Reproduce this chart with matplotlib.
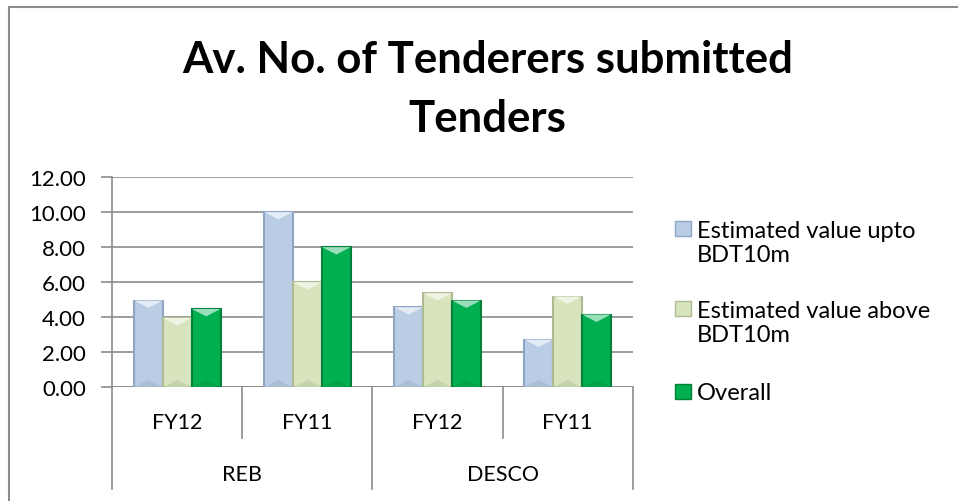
import matplotlib.pyplot as plt
import numpy as np
from matplotlib.patches import Rectangle, Polygon
from matplotlib.lines import Line2D
import matplotlib.transforms as mtransforms
import matplotlib.colors as mcolors

plt.rcParams["font.family"] = ["Lato", "DejaVu Sans"]

# -----------------------------
# Data
# -----------------------------
years = ["FY12", "FY11", "FY12", "FY11"]
groups = ["REB", "DESCO"]
series_names = ["Estimated value upto\nBDT10m", "Estimated value above\nBDT10m", "Overall"]
upto_10m = [4.95, 10.0, 4.57, 2.72]
above_10m = [3.96, 6.0, 5.37, 5.18]
overall = [4.47, 8.0, 4.95, 4.15]

colors = ["#B9CDE5", "#D7E4BD", "#00B050"]
edges = ["#8EA6C4", "#AEBB92", "#00803A"]
grid_gray = "#8C8C8C"


def mix(c, other, t):
    a = np.array(mcolors.to_rgb(c))
    b = np.array(mcolors.to_rgb(other))
    return tuple(a * (1 - t) + b * t)


fig = plt.figure(figsize=(9.58, 5.02), dpi=100)
ax = fig.add_axes([0.1172, 0.2265, 0.5432, 0.4189])

x = np.arange(len(years))
width = 0.222
bevel = 0.42  # bevel depth in data units (~7 px)
for i, vals in enumerate([upto_10m, above_10m, overall]):
    bars = ax.bar(x + (i - 1) * width, vals, width, color=colors[i],
                  edgecolor=edges[i], linewidth=1.5, zorder=3)
    # simple bevel look: light top facet, darker bottom facet
    for p in bars:
        x0, w, h = p.get_x(), p.get_width(), p.get_height()
        ax.add_patch(Polygon([(x0, h), (x0 + w, h), (x0 + w / 2, h - bevel)],
                             closed=True, facecolor=mix(colors[i], "white", 0.6),
                             edgecolor="none", zorder=4))
        ax.add_patch(Polygon([(x0, 0), (x0 + w, 0), (x0 + w / 2, bevel)],
                             closed=True, facecolor=mix(colors[i], "black", 0.08),
                             edgecolor="none", zorder=4))

ax.set_xlim(-0.5, len(years) - 0.5)
ax.set_ylim(0, 12)
yt = np.arange(0, 12.01, 2)
ax.set_yticks(yt)
ax.set_yticklabels([f"{v:.2f}" for v in yt], fontsize=16)
ax.yaxis.grid(True, color=grid_gray, linewidth=1.2, zorder=0)
ax.tick_params(axis="y", length=8, width=1.2, color=grid_gray, pad=11)
ax.set_xticks([])
for s in ["top", "right", "bottom"]:
    ax.spines[s].set_visible(False)
ax.spines["left"].set_color(grid_gray)
ax.spines["left"].set_linewidth(1.2)
ax.axhline(0, color=grid_gray, linewidth=1.2, zorder=2)

# -----------------------------
# Two-level category axis
# -----------------------------
trans = mtransforms.blended_transform_factory(ax.transData, ax.transAxes)
for xi, lab in zip(x, years):
    ax.text(xi, -0.165, lab, transform=trans, ha="center", va="center", fontsize=15.5)
for gi, g in enumerate(groups):
    ax.text(2 * gi + 0.5, -0.41, g, transform=trans, ha="center", va="center", fontsize=15.5)
for xb in np.arange(-0.5, len(years), 1):
    is_long = (xb + 0.5) % 2 == 0
    y0 = -0.484 if is_long else -0.241
    ax.add_line(Line2D([xb, xb], [0, y0], transform=trans, color=grid_gray,
                       linewidth=1.2, clip_on=False))

# -----------------------------
# Title
# -----------------------------
fig.text(0.509, 0.8546, "Av. No. of Tenderers submitted", ha="center",
         va="baseline", fontsize=31.5, fontweight="bold")
fig.text(0.509, 0.737, "Tenders", ha="center",
         va="baseline", fontsize=31.5, fontweight="bold")

# -----------------------------
# Legend (square aligned with first line of each label)
# -----------------------------
leg_y = [0.542, 0.383, 0.219]  # first-line centres, figure fraction
for name, c, ec, yy in zip(series_names, colors, edges, leg_y):
    fig.patches.append(Rectangle((675 / 958, yy - 7.5 / 502), 16 / 958, 15 / 502,
                                 transform=fig.transFigure, facecolor=c,
                                 edgecolor=ec, linewidth=1.0))
    fig.text(697 / 958, yy + 9 / 502, name, ha="left", va="top",
             fontsize=17, linespacing=1.2)

# outer chart frame
fig.patches.append(Rectangle((9 / 958, -0.05), 1.1, 0.05 + 1 - 8 / 502,
                             transform=fig.transFigure, fill=False,
                             edgecolor=grid_gray, linewidth=1.5))

fig.savefig("out.png", dpi=100)
